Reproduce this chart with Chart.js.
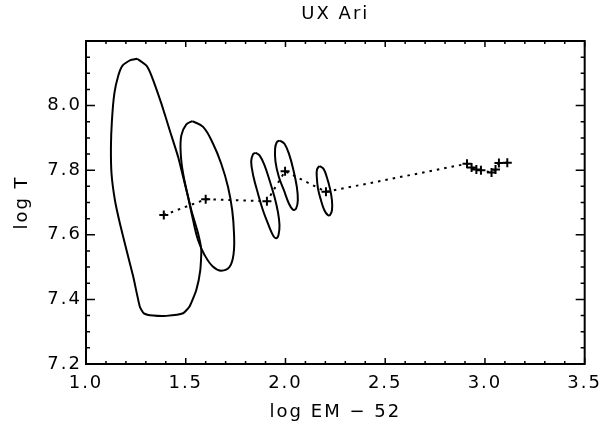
<!DOCTYPE html>
<html>
<head>
<meta charset="utf-8">
<script src="https://cdn.jsdelivr.net/npm/chart.js@4.4.1/dist/chart.umd.min.js"></script>
<style>
  html, body { margin: 0; padding: 0; background: #fff; }
  #wrap { width: 611px; height: 431px; }
</style>
</head>
<body>
<div id="wrap"><canvas id="c" width="611" height="431"></canvas></div>
<script>
// Best-fit temperature / emission-measure solutions (dotted track with crosses)
const fitEM = [1.39, 1.60, 1.907, 1.998, 2.203, 2.91, 2.933, 2.957, 2.98, 3.033, 3.053, 3.07, 3.112];
const fitT  = [7.661, 7.710, 7.704, 7.797, 7.733, 7.820, 7.808, 7.802, 7.800, 7.793, 7.802, 7.822, 7.823];

// Confidence contours, as [log EM - 52, log T] vertices
const contour1 = [
  [1.257, 8.145], [1.220, 8.140], [1.183, 8.124], [1.162, 8.093], [1.142, 8.037],
  [1.130, 7.954], [1.125, 7.872], [1.128, 7.789], [1.145, 7.707], [1.170, 7.635],
  [1.203, 7.553], [1.237, 7.470], [1.270, 7.377], [1.290, 7.357], [1.337, 7.350],
  [1.403, 7.349], [1.487, 7.357], [1.520, 7.379], [1.553, 7.429], [1.573, 7.491],
  [1.578, 7.553], [1.562, 7.604], [1.528, 7.676], [1.495, 7.759], [1.462, 7.841],
  [1.420, 7.923], [1.378, 8.006], [1.328, 8.093], [1.303, 8.124], [1.257, 8.145]
];
const contour2 = [
  [1.533, 7.952], [1.587, 7.934], [1.637, 7.882], [1.678, 7.820], [1.712, 7.748],
  [1.733, 7.676], [1.742, 7.604], [1.740, 7.542], [1.720, 7.501], [1.678, 7.489],
  [1.637, 7.501], [1.595, 7.537], [1.562, 7.583], [1.537, 7.645], [1.512, 7.717],
  [1.487, 7.789], [1.475, 7.851], [1.478, 7.908], [1.503, 7.942], [1.533, 7.952]
];
const contour3 = [
  [1.850, 7.854], [1.870, 7.846], [1.895, 7.815], [1.920, 7.769], [1.945, 7.717],
  [1.962, 7.671], [1.970, 7.630], [1.965, 7.599], [1.953, 7.589], [1.937, 7.599],
  [1.912, 7.635], [1.887, 7.676], [1.862, 7.728], [1.840, 7.779], [1.828, 7.826],
  [1.837, 7.849], [1.850, 7.854]
];
const contour4 = [
  [1.970, 7.892], [1.995, 7.882], [2.020, 7.846], [2.040, 7.800], [2.057, 7.748],
  [2.062, 7.707], [2.053, 7.681], [2.037, 7.678], [2.017, 7.697], [1.992, 7.738],
  [1.967, 7.779], [1.950, 7.826], [1.948, 7.867], [1.957, 7.887], [1.970, 7.892]
];
const contour5 = [
  [2.170, 7.813], [2.190, 7.805], [2.207, 7.779], [2.223, 7.743], [2.233, 7.707],
  [2.233, 7.676], [2.223, 7.661], [2.212, 7.661], [2.195, 7.676], [2.178, 7.707],
  [2.163, 7.743], [2.157, 7.779], [2.158, 7.802], [2.170, 7.813]
];

// Axis ranges and labelled ticks
const emRange = [1.0, 3.5];
const tRange = [7.2, 8.2];
const emTickStep = 0.5;
const tTickStep = 0.2;

const FONT = "'DejaVu Sans', 'Liberation Sans', Arial, sans-serif";
const LETTER_SPACING = '2px';
const toXY = pts => pts.map(p => ({ x: p[0], y: p[1] }));

function contourSet(pts, tension) {
  return {
    type: 'scatter',
    data: toXY(pts),
    showLine: true,
    borderColor: '#000',
    borderWidth: 2,
    pointRadius: 0,
    tension: tension,
    fill: false
  };
}

// Wide, evenly spaced lettering for every text item
const spacingPlugin = {
  id: 'spacing',
  beforeUpdate(chart) { chart.ctx.letterSpacing = LETTER_SPACING; },
  beforeLayout(chart) { chart.ctx.letterSpacing = LETTER_SPACING; },
  beforeDraw(chart) { chart.ctx.letterSpacing = LETTER_SPACING; }
};

// Closed frame with inward major/minor ticks on all four sides
const framePlugin = {
  id: 'frame',
  afterDraw(chart) {
    const { ctx, chartArea: a, scales } = chart;
    const xs = scales.x, ys = scales.y;
    ctx.save();
    ctx.strokeStyle = '#000';
    ctx.lineWidth = 2;
    ctx.strokeRect(a.left, a.top, a.right - a.left, a.bottom - a.top);
    ctx.lineWidth = 1.5;
    ctx.beginPath();
    const nx = Math.round((xs.max - xs.min) / 0.1);
    for (let i = 0; i <= nx; i++) {
      const px = xs.getPixelForValue(xs.min + i * 0.1);
      const len = i % 5 === 0 ? 6 : 3;
      ctx.moveTo(px, a.bottom); ctx.lineTo(px, a.bottom - len);
      ctx.moveTo(px, a.top); ctx.lineTo(px, a.top + len);
    }
    const ny = Math.round((ys.max - ys.min) / 0.05);
    for (let i = 0; i <= ny; i++) {
      const py = ys.getPixelForValue(ys.min + i * 0.05);
      const len = i % 4 === 0 ? 9 : 4;
      ctx.moveTo(a.left, py); ctx.lineTo(a.left + len, py);
      ctx.moveTo(a.right, py); ctx.lineTo(a.right - len, py);
    }
    ctx.stroke();
    ctx.restore();
  }
};

const textFont = { family: FONT, size: 18, lineHeight: 1.2 };

new Chart(document.getElementById('c'), {
  type: 'scatter',
  data: {
    datasets: [
      contourSet(contour1, 0.15),
      contourSet(contour2, 0.4),
      contourSet(contour3, 0.4),
      contourSet(contour4, 0.4),
      contourSet(contour5, 0.4),
      {
        type: 'scatter',
        data: fitEM.map((e, i) => ({ x: e, y: fitT[i] })),
        showLine: true,
        borderColor: '#000',
        borderWidth: 2,
        borderDash: [2.5, 5],
        pointStyle: 'cross',
        pointRadius: 4.5,
        pointBorderWidth: 2,
        pointBorderColor: '#000',
        pointBackgroundColor: '#000'
      }
    ]
  },
  options: {
    responsive: false,
    devicePixelRatio: 1,
    animation: false,
    layout: { padding: { left: 0, right: 25, top: 0, bottom: 0 } },
    plugins: {
      legend: { display: false },
      tooltip: { enabled: false },
      title: { display: false }
    },
    scales: {
      x: {
        type: 'linear',
        position: 'bottom',
        min: emRange[0],
        max: emRange[1],
        grid: { display: false, drawTicks: false },
        border: { display: false },
        ticks: {
          stepSize: emTickStep,
          color: '#000',
          padding: 9,
          font: textFont,
          maxRotation: 0,
          callback: v => v.toFixed(1)
        },
        title: {
          display: true,
          text: 'log EM \u2212 52',
          color: '#000',
          font: textFont,
          padding: { top: 0, bottom: 8 }
        },
        afterFit(scale) { scale.height = 67; }
      },
      // top axis carries the plot title, centred over the frame
      xTop: {
        type: 'linear',
        position: 'top',
        min: emRange[0],
        max: emRange[1],
        grid: { display: false, drawTicks: false },
        border: { display: false },
        ticks: { display: false },
        title: {
          display: true,
          text: 'UX Ari',
          color: '#000',
          font: textFont,
          padding: { top: 4, bottom: 0 }
        },
        afterFit(scale) { scale.height = 41; }
      },
      y: {
        type: 'linear',
        min: tRange[0],
        max: tRange[1],
        grid: { display: false, drawTicks: false },
        border: { display: false },
        ticks: {
          stepSize: tTickStep,
          color: '#000',
          padding: 4,
          font: textFont,
          callback: v => (v > tRange[1] - 1e-6 ? '' : v.toFixed(1))
        },
        title: {
          display: true,
          text: 'log T',
          color: '#000',
          font: textFont,
          padding: { top: 12, bottom: 0 }
        },
        afterFit(scale) { scale.width = 86; }
      }
    }
  },
  plugins: [spacingPlugin, framePlugin]
});
</script>
</body>
</html>
